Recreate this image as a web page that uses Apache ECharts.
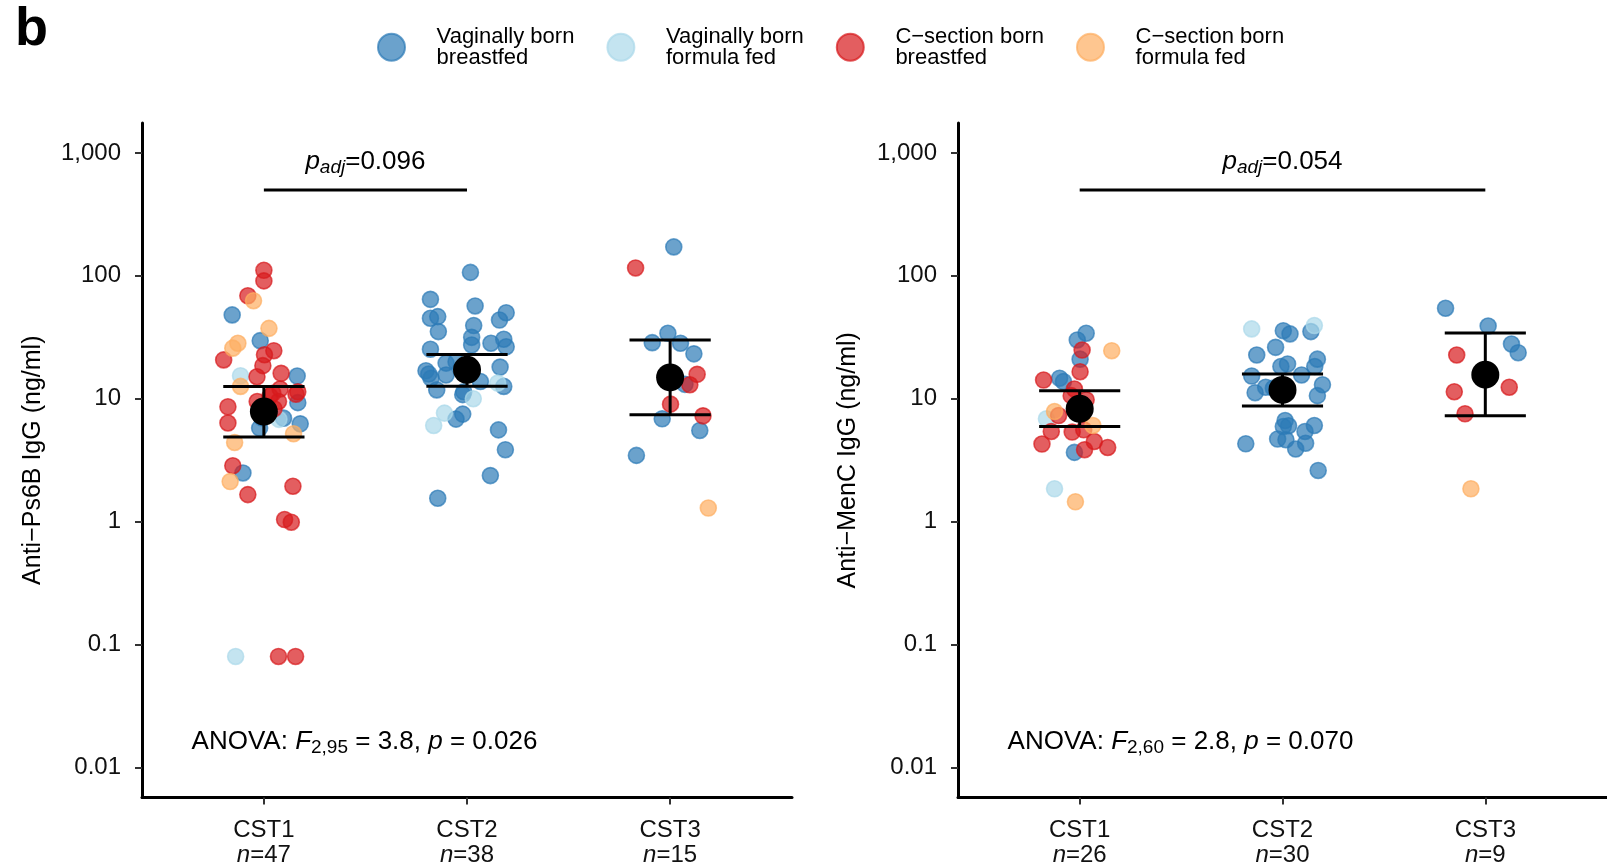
<!DOCTYPE html>
<html><head><meta charset="utf-8">
<script src="https://cdn.jsdelivr.net/npm/echarts@6/dist/echarts.min.js"></script>
<style>html,body{margin:0;padding:0;background:#fff}#c{width:1607px;height:867px}</style>
</head><body><div id="c"></div>
<script>
// ---------------- DATA ----------------
const categories = ['CST1', 'CST2', 'CST3'];
const groupNames = ['Vaginally born\nbreastfed', 'Vaginally born\nformula fed', 'C\u2212section born\nbreastfed', 'C\u2212section born\nformula fed'];
const groupColors = ['#2C7BB6', '#ABD9E9', '#D7191C', '#FDAE61'];
const yTicks = [0.01, 0.1, 1, 10, 100, 1000];
const yTickLabels = ['0.01', '0.1', '1', '10', '100', '1,000'];

// Panel 1: Anti-Ps6B IgG. Each point: [value ng/ml, horizontal jitter (category units), group code]
const ps6bN = [47, 38, 15];
const ps6bCST1 = [
  [111, 0.00, 2], [91, 0.00, 2], [68.9, -0.079, 2], [62.8, -0.051, 3], [48.1, -0.156, 0],
  [37.4, 0.025, 3], [29.7, -0.018, 0], [28.3, -0.128, 3], [25.8, -0.153, 3], [24.6, 0.049, 2],
  [22.8, 0.003, 2], [20.7, -0.198, 2], [18.6, -0.005, 2], [16.1, 0.085, 2], [15.1, -0.034, 2],
  [15.4, -0.115, 1], [15.3, 0.164, 0], [12.6, -0.115, 3], [11.1, 0.044, 2], [11.4, 0.167, 2],
  [10.9, 0.158, 2], [9.3, 0.167, 0], [8.6, -0.177, 2], [9.5, -0.033, 2], [9.5, 0.072, 2],
  [6.35, -0.177, 2], [5.77, -0.021, 0], [6.95, 0.097, 0], [6.8, 0.074, 1], [6.25, 0.179, 0],
  [5.19, 0.146, 3], [4.41, -0.144, 3], [2.85, -0.153, 2], [2.49, -0.103, 0], [2.12, -0.166, 3],
  [1.66, -0.079, 2], [1.94, 0.143, 2], [1.04, 0.102, 2], [0.99, 0.135, 2], [0.08, -0.139, 1],
  [0.08, 0.072, 2], [0.08, 0.156, 2], [7.9, 0.02, 2], [10.5, 0.03, 2], [7.0, -0.01, 0],
  [8.3, 0.05, 2], [12.0, 0.08, 2]
];
const ps6bCST2 = [
  [106.7, 0.017, 0], [64.4, -0.180, 0], [56.9, 0.040, 0], [45.2, -0.180, 0], [46.6, -0.144, 0],
  [50.1, 0.193, 0], [43.7, 0.160, 0], [35.2, -0.141, 0], [39.4, 0.033, 0], [31.6, 0.023, 0],
  [27.4, 0.023, 0], [28.3, 0.118, 0], [30.5, 0.181, 0], [26.5, 0.193, 0], [25.3, -0.180, 0],
  [19.5, -0.103, 0], [16.9, -0.202, 0], [15.9, -0.188, 0], [15.6, -0.103, 0], [18.1, 0.163, 0],
  [14.7, -0.177, 0], [13.8, 0.066, 0], [13.4, 0.151, 1], [12.6, 0.181, 0], [11.8, -0.149, 0],
  [11.4, -0.016, 0], [10.8, -0.021, 0], [10.0, 0.031, 1], [7.64, -0.111, 1], [7.5, -0.021, 0],
  [6.83, -0.054, 0], [6.06, -0.164, 1], [5.58, 0.155, 0], [3.85, 0.189, 0], [2.37, 0.115, 0],
  [1.55, -0.144, 0], [17.2, 0.0, 0], [20.0, -0.054, 0]
];
const ps6bCST3 = [
  [172, 0.018, 0], [116, -0.170, 2], [34.1, -0.011, 0], [28.6, -0.088, 0], [28.3, 0.051, 0],
  [23.2, 0.117, 0], [15.8, 0.133, 2], [13.1, 0.073, 0], [13.0, 0.097, 2], [9.04, 0.002, 2],
  [6.87, -0.039, 0], [7.26, 0.162, 2], [5.52, 0.146, 0], [3.46, -0.166, 0], [1.29, 0.188, 3]
];
const ps6bMean = [7.87, 17.2, 14.9];
const ps6bLow = [4.88, 12.65, 7.4];
const ps6bHigh = [12.6, 22.9, 30.1];
const ps6bPadj = '0.096';
const ps6bPair = [1, 2];
const ps6bAnova = { df: '2,95', F: '3.8', p: '0.026' };

// Panel 2: Anti-MenC IgG
const mencN = [26, 30, 9];
const mencCST1 = [
  [34.1, 0.032, 0], [30.1, -0.012, 0], [24.6, 0.158, 3], [24.9, 0.012, 2], [21.0, 0.002, 0],
  [16.6, 0.002, 2], [14.2, -0.178, 2], [14.7, -0.099, 0], [13.8, -0.080, 0], [12.0, -0.026, 2],
  [10.6, -0.042, 2], [9.8, 0.032, 2], [7.87, -0.124, 3], [7.3, -0.104, 2], [6.87, -0.164, 1],
  [6.06, 0.065, 3], [5.42, -0.140, 2], [5.36, -0.037, 2], [5.59, 0.020, 2], [4.28, -0.186, 2],
  [4.49, 0.072, 2], [4.01, 0.138, 2], [3.85, 0.024, 2], [3.66, -0.026, 0], [1.85, -0.124, 1],
  [1.45, -0.021, 3]
];
const mencCST2 = [
  [37.0, -0.152, 1], [39.4, 0.157, 1], [35.2, 0.140, 0], [35.8, 0.004, 0], [33.7, 0.037, 0],
  [26.2, -0.034, 0], [22.7, -0.127, 0], [21.0, 0.172, 0], [18.3, 0.159, 0], [19.2, 0.025, 0],
  [18.3, -0.008, 0], [15.6, 0.094, 0], [15.3, -0.152, 0], [12.4, -0.083, 0], [11.2, -0.135, 0],
  [13.0, 0.197, 0], [10.6, 0.172, 0], [6.65, 0.013, 0], [6.03, 0.030, 0], [6.06, 0.157, 0],
  [5.42, 0.111, 0], [4.70, -0.024, 0], [4.64, 0.017, 0], [4.35, 0.114, 0], [3.90, 0.065, 0],
  [4.30, -0.181, 0], [2.61, 0.176, 0], [11.8, 0.0, 0], [5.94, 0.004, 0], [12.2, -0.045, 0]
];
const mencCST3 = [
  [54.5, -0.196, 0], [39.1, 0.014, 0], [27.9, 0.129, 0], [23.7, 0.162, 0], [22.7, -0.141, 2],
  [12.4, 0.118, 2], [11.4, -0.153, 2], [7.54, -0.100, 2], [1.85, -0.071, 3]
];
const mencMean = [8.28, 11.8, 15.7];
const mencLow = [5.94, 8.75, 7.26];
const mencHigh = [11.6, 15.9, 34.3];
const mencPadj = '0.054';
const mencPair = [1, 3];
const mencAnova = { df: '2,60', F: '2.8', p: '0.070' };

const bracketLevel = 500;   // y value of the significance bracket
const padjLevel = 853;      // y value of the p_adj label
// ---------------- CHART ----------------
const FONT = 'Liberation Sans, Arial, Helvetica, sans-serif';
const TXT = '#111';
function rgba(hex, a) {
  const n = parseInt(hex.slice(1), 16);
  return 'rgba(' + (n >> 16) + ',' + ((n >> 8) & 255) + ',' + (n & 255) + ',' + a + ')';
}

const panels = [
  { pts: [ps6bCST1, ps6bCST2, ps6bCST3], n: ps6bN, mean: ps6bMean, lo: ps6bLow, hi: ps6bHigh,
    padj: ps6bPadj, pair: ps6bPair, anova: ps6bAnova, title: 'Anti\u2212Ps6B IgG (ng/ml)', left: 142, nameGap: 96 },
  { pts: [mencCST1, mencCST2, mencCST3], n: mencN, mean: mencMean, lo: mencLow, hi: mencHigh,
    padj: mencPadj, pair: mencPair, anova: mencAnova, title: 'Anti\u2212MenC IgG (ng/ml)', left: 958, nameGap: 97 }
];

const grids = [], xAxes = [], yAxes = [], series = [], titles = [];

titles.push({ text: 'b', left: 15, top: 3, padding: 0,
  textStyle: { fontFamily: FONT, fontSize: 54, fontWeight: 'bold', color: '#000' } });

panels.forEach((P, pi) => {
  grids.push({ left: P.left, top: 123, width: 650, height: 675, containLabel: false });
  xAxes.push({
    type: 'value', gridIndex: pi, min: 0.4, max: 3.6,
    axisLine: { show: true, onZero: false, lineStyle: { color: '#000', width: 3 } },
    axisTick: { show: true, customValues: [1, 2, 3], length: 7, lineStyle: { color: '#333', width: 2 } },
    axisLabel: {
      show: true, customValues: [1, 2, 3], margin: 20,
      formatter: v => { const i = Math.round(v) - 1; return '{a|' + categories[i] + '}\n{i|n}{a|=' + P.n[i] + '}'; },
      rich: {
        a: { fontFamily: FONT, fontSize: 24, lineHeight: 25, color: TXT },
        i: { fontFamily: FONT, fontSize: 24, lineHeight: 25, color: TXT, fontStyle: 'italic' }
      }
    },
    splitLine: { show: false }
  });
  yAxes.push({
    type: 'log', logBase: 10, gridIndex: pi, min: 0.005694, max: 1753,
    name: P.title, nameLocation: 'middle', nameRotate: 90, nameGap: P.nameGap,
    nameTextStyle: { fontFamily: FONT, fontSize: 25, color: '#000' },
    axisLine: { show: true, lineStyle: { color: '#000', width: 3 } },
    axisTick: { show: true, customValues: yTicks, length: 7, lineStyle: { color: '#333', width: 2 } },
    axisLabel: {
      show: true, customValues: yTicks, margin: 21, fontFamily: FONT, fontSize: 24, color: TXT,
      formatter: v => yTickLabels[Math.round(Math.log10(v)) + 2]
    },
    splitLine: { show: false }
  });

  // jittered points, one series per birth/feeding group
  groupNames.forEach((g, t) => {
    const data = [];
    P.pts.forEach((arr, c) => arr.forEach(p => { if (p[2] === t) data.push([c + 1 + p[1], p[0]]); }));
    series.push({
      type: 'scatter', name: g, xAxisIndex: pi, yAxisIndex: pi, data: data,
      symbol: 'circle', symbolSize: 16, z: 2, silent: true,
      itemStyle: { color: rgba(groupColors[t], 0.7), borderColor: rgba(groupColors[t], 0.7), borderWidth: 1.6, opacity: 1 }
    });
  });

  // error bars
  series.push({
    type: 'custom', xAxisIndex: pi, yAxisIndex: pi, z: 3, silent: true,
    data: categories.map((c, i) => [i + 1, P.mean[i], P.lo[i], P.hi[i]]),
    encode: { x: 0, y: [1, 2, 3] },
    renderItem: (params, api) => {
      const x = api.value(0), lo = api.value(2), hi = api.value(3);
      const a = api.coord([x, lo]), b = api.coord([x, hi]);
      const l1 = api.coord([x - 0.2, lo]), r1 = api.coord([x + 0.2, lo]);
      const l2 = api.coord([x - 0.2, hi]), r2 = api.coord([x + 0.2, hi]);
      const st = { stroke: '#000', lineWidth: 3 };
      return { type: 'group', children: [
        { type: 'line', shape: { x1: a[0], y1: a[1], x2: b[0], y2: b[1] }, style: st },
        { type: 'line', shape: { x1: l1[0], y1: l1[1], x2: r1[0], y2: r1[1] }, style: st },
        { type: 'line', shape: { x1: l2[0], y1: l2[1], x2: r2[0], y2: r2[1] }, style: st }
      ] };
    }
  });
  // means
  series.push({
    type: 'scatter', xAxisIndex: pi, yAxisIndex: pi, z: 4, silent: true,
    data: P.mean.map((m, i) => [i + 1, m]), symbolSize: 28, itemStyle: { color: '#000', opacity: 1 }
  });
  // significance bracket
  series.push({
    type: 'line', xAxisIndex: pi, yAxisIndex: pi, z: 3, silent: true, symbol: 'none',
    data: P.pair.map(x => [x, bracketLevel]), lineStyle: { color: '#000', width: 3 }
  });
  // p_adj label above bracket
  series.push({
    type: 'custom', xAxisIndex: pi, yAxisIndex: pi, z: 3, silent: true,
    data: [[(P.pair[0] + P.pair[1]) / 2, padjLevel]],
    encode: { x: 0, y: 1 },
    renderItem: (params, api) => {
      const c = api.coord([api.value(0), api.value(1)]);
      return {
        type: 'text', x: c[0], y: c[1],
        style: {
          text: '{i|p}{s|adj}{n|=' + P.padj + '}', fill: '#000', align: 'center', verticalAlign: 'middle',
          rich: {
            i: { fontFamily: FONT, fontSize: 26, fontStyle: 'italic', fill: '#000', lineHeight: 30 },
            s: { fontFamily: FONT, fontSize: 19, fontStyle: 'italic', fill: '#000', lineHeight: 19, padding: [12, 0, 0, 0] },
            n: { fontFamily: FONT, fontSize: 26, fill: '#000', lineHeight: 30 }
          }
        }
      };
    }
  });
  // ANOVA annotation
  titles.push({
    left: P.left + 49.6, top: 727, padding: 0,
    text: '{n|ANOVA: }{i|F}{s|' + P.anova.df + '}{n| = ' + P.anova.F + ', }{i|p}{n| = ' + P.anova.p + '}',
    textStyle: {
      fontWeight: 'normal',
      rich: {
        n: { fontFamily: FONT, fontSize: 26, fontWeight: 'normal', color: '#000', lineHeight: 30 },
        i: { fontFamily: FONT, fontSize: 26, fontWeight: 'normal', fontStyle: 'italic', color: '#000', lineHeight: 30 },
        s: { fontFamily: FONT, fontSize: 19, fontWeight: 'normal', color: '#000', lineHeight: 19, padding: [12, 0, 0, 0] }
      }
    }
  });
});

const chart = echarts.init(document.getElementById('c'), null, { renderer: 'canvas' });
chart.setOption({
  animation: false,
  backgroundColor: '#fff',
  textStyle: { fontFamily: FONT },
  title: titles,
  legend: {
    data: groupNames, top: 25.5, left: 377, padding: 0, orient: 'horizontal',
    itemWidth: 80.2, itemHeight: 27, itemGap: 32, selectedMode: false,
    textStyle: { fontFamily: FONT, fontSize: 22, color: '#000', lineHeight: 21.5 }
  },
  grid: grids,
  xAxis: xAxes,
  yAxis: yAxes,
  series: series
});
</script>
</body></html>
